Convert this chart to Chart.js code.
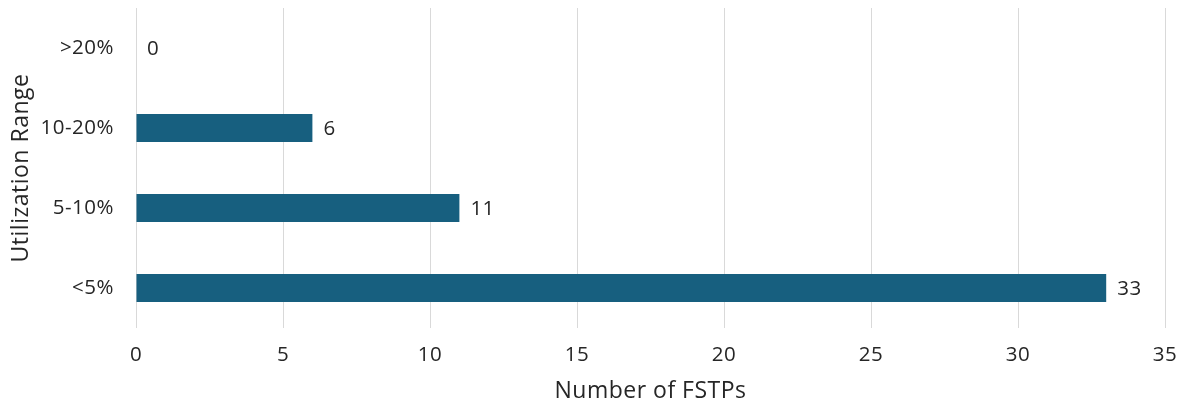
<!DOCTYPE html>
<html>
<head>
<meta charset="utf-8">
<script src="https://cdn.jsdelivr.net/npm/chart.js@4"></script>
<style>
  html, body { margin: 0; padding: 0; background: #fff; }
  #wrap { width: 1187px; height: 406px; }
</style>
</head>
<body>
<div id="wrap"><canvas id="fstpChart"></canvas></div>
<script>
// chart data
const categories = ['>20%', '10-20%', '5-10%', '<5%'];
const fstpCounts = [0, 6, 11, 33];
const xTicks = [0, 5, 10, 15, 20, 25, 30, 35];

const fontFamily = "'Open Sans', 'Noto Sans', sans-serif";
const textColor = '#262626';
const tickSize = 20.5;
const titleSize = 23;

// the original font is a little wider, so open the letters up slightly
const wideText = {
    id: 'wideText',
    beforeUpdate(chart) { chart.ctx.letterSpacing = '0.5px'; },
    beforeDraw(chart) { chart.ctx.letterSpacing = '0.5px'; }
};

// draws the value right after each bar
const valueLabels = {
    id: 'valueLabels',
    afterDatasetsDraw(chart) {
        const ctx = chart.ctx;
        const meta = chart.getDatasetMeta(0);
        ctx.save();
        ctx.font = tickSize + 'px ' + fontFamily;
        ctx.fillStyle = textColor;
        ctx.textAlign = 'left';
        ctx.textBaseline = 'middle';
        meta.data.forEach((bar, i) => {
            ctx.fillText(String(fstpCounts[i]), bar.x + 11, bar.y + 1);
        });
        ctx.restore();
    }
};

const ctx = document.getElementById('fstpChart').getContext('2d');
new Chart(ctx, {
    type: 'bar',
    data: {
        labels: categories,
        datasets: [{
            data: fstpCounts,
            backgroundColor: '#175f7f',
            borderWidth: 0,
            barPercentage: 0.35,
            categoryPercentage: 1
        }]
    },
    options: {
        indexAxis: 'y',
        responsive: true,
        maintainAspectRatio: false,
        animation: false,
        layout: { padding: { top: 8, right: 22, bottom: 0, left: 4 } },
        plugins: {
            legend: { display: false },
            tooltip: { enabled: false }
        },
        scales: {
            x: {
                min: 0,
                max: 35,
                afterBuildTicks: (scale) => {
                    scale.ticks = xTicks.map(v => ({ value: v }));
                },
                afterFit: (scale) => {
                    scale.height = 78;
                    scale.paddingLeft = 0;
                    scale.paddingRight = 0;
                },
                grid: { color: '#d9d9d9', drawTicks: false, lineWidth: 1 },
                border: { display: false },
                ticks: {
                    padding: 15,
                    color: textColor,
                    font: { family: fontFamily, size: tickSize }
                },
                title: {
                    display: true,
                    text: 'Number of FSTPs',
                    color: textColor,
                    padding: { top: 4, bottom: 1 },
                    font: { family: fontFamily, size: titleSize }
                }
            },
            y: {
                afterFit: (scale) => {
                    scale.width = 132;
                    scale.paddingTop = 0;
                    scale.paddingBottom = 0;
                },
                grid: { display: false, drawTicks: false },
                border: { display: false },
                ticks: {
                    padding: 22,
                    color: textColor,
                    font: { family: fontFamily, size: tickSize }
                },
                title: {
                    display: true,
                    text: 'Utilization Range',
                    color: textColor,
                    font: { family: fontFamily, size: titleSize }
                }
            }
        }
    },
    plugins: [wideText, valueLabels]
});
</script>
</body>
</html>
